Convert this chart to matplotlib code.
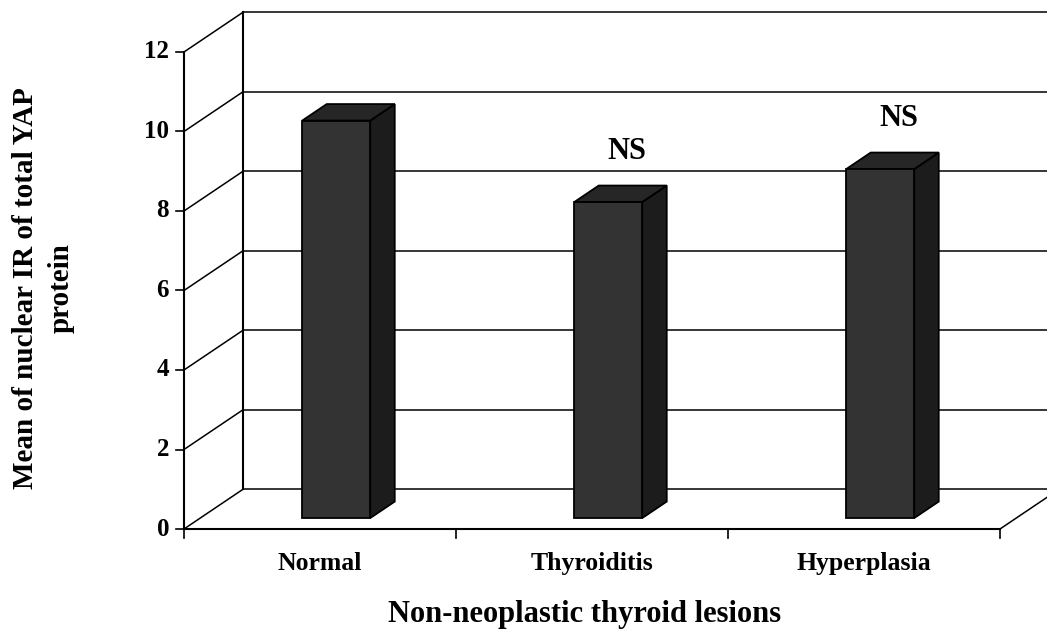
import matplotlib.pyplot as plt
from matplotlib.patches import Polygon

# mean nuclear IR of total YAP per lesion type
categories = ['Normal', 'Thyroiditis', 'Hyperplasia']
values = [10.0, 7.95, 8.78]
sig_labels = ['', 'NS', 'NS']
yticks = [0, 2, 4, 6, 8, 10, 12]

plt.rcParams['font.family'] = ['Liberation Serif', 'DejaVu Serif']
plt.rcParams['font.weight'] = 'bold'

fig = plt.figure(figsize=(10.47, 6.37), dpi=100)
ax = fig.add_axes([0, 0, 1, 1])
# one category = 272 px, one value unit = 39.75 px, origin at (184, 108) px
ax.set_xlim(-184 / 272, (1047 - 184) / 272)
ax.set_ylim(-108 / 39.75, (637 - 108) / 39.75)
ax.axis('off')

# depth of the 3d box (oblique projection), in data units
DX, DY = 0.217, 1.0
F0, F1 = 0.275, 0.69   # front and back of the bars inside the depth
ymax = yticks[-1]
ncat = len(categories)
lc = 'black'

# back wall gridlines and side wall lines
for v in yticks:
    ax.plot([DX, ncat + DX], [v + DY, v + DY], color=lc, lw=1.1, zorder=1)
    ax.plot([0, DX], [v, v + DY], color=lc, lw=1.1, zorder=1)
ax.plot([DX, DX], [DY, ymax + DY], color=lc, lw=1.5, zorder=1)
# floor
ax.plot([ncat, ncat + DX], [0, DY], color=lc, lw=1.1, zorder=1)
# front axes
ax.plot([0, 0], [0, ymax], color=lc, lw=1.5, zorder=3)
ax.plot([0, ncat], [0, 0], color=lc, lw=1.5, zorder=3)
for v in yticks:
    ax.plot([-0.03, 0], [v, v], color=lc, lw=1.2, zorder=3)
    ax.text(-0.055, v, str(v), ha='right', va='center', fontsize=18)
for i in range(ncat + 1):
    ax.plot([i, i], [0, -0.22], color=lc, lw=1.2, zorder=3)

# bars
w = 0.25
ddx, ddy = (F1 - F0) * DX, (F1 - F0) * DY
for i, (cat, v, lab) in enumerate(zip(categories, values, sig_labels)):
    x0 = i + 0.5 - w / 2 + F0 * DX
    x1 = x0 + w
    yb = F0 * DY
    yt = v + F0 * DY
    front = [(x0, yb), (x1, yb), (x1, yt), (x0, yt)]
    side = [(x1, yb), (x1 + ddx, yb + ddy), (x1 + ddx, yt + ddy), (x1, yt)]
    top = [(x0, yt), (x1, yt), (x1 + ddx, yt + ddy), (x0 + ddx, yt + ddy)]
    for pts, col in [(side, '#1c1c1c'), (top, '#262626'), (front, '#333333')]:
        ax.add_patch(Polygon(pts, closed=True, facecolor=col, edgecolor='black',
                             lw=1.3, joinstyle='miter', zorder=4))
    ax.text(i + 0.5, -1.03, cat, ha='center', va='baseline', fontsize=18.5)
    if lab:
        ax.text(x0 + w / 2 + ddx / 2 + 0.024, yt + ddy + 0.68, lab,
                ha='center', va='baseline', fontsize=22)

ax.text(1.474, -2.34, 'Non-neoplastic thyroid lesions', ha='center',
        va='baseline', fontsize=22)
fig.text(0.041, 0.548, 'Mean of nuclear IR of total YAP\nprotein', rotation=90,
         ha='center', va='center', multialignment='center', fontsize=21,
         linespacing=1.4)

fig.savefig('out.png', dpi=100)
